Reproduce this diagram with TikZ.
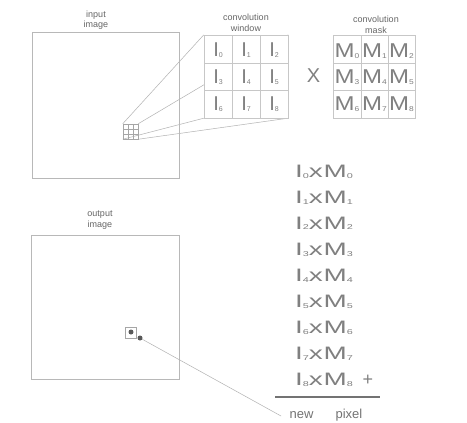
\documentclass[tikz,border=0pt]{standalone}
\usepackage{fontspec}
\setmainfont{Liberation Sans}
\pgfdeclarelayer{back}
\pgfsetlayers{back,main}
\newcommand{\sbs}[1]{\raisebox{-1pt}{\fontsize{7}{7}\selectfont #1}}
\begin{document}
\begin{tikzpicture}[x=1pt,y=-1pt,
  frame/.style={draw=black!28, line width=0.6pt},
  gridline/.style={draw=black!22, line width=0.7pt},
  link/.style={draw=black!30, line width=0.5pt},
  lbl/.style={font=\fontsize{9}{10.5}\selectfont, text=black!60, align=center, inner sep=0pt},
  cell/.style={font=\fontsize{20}{20}\selectfont, text=black!50, inner sep=0pt},
  eq/.style={font=\fontsize{18}{18}\selectfont, text=black!50, inner sep=0pt, anchor=base west},
  dot/.style={circle, fill=black!65, minimum size=5pt, inner sep=0pt},
]
\begin{pgfonlayer}{back}
\fill[white] (0,0) rectangle (467,423);
\end{pgfonlayer}
\useasboundingbox (0,0) rectangle (467,423);

% labels
\node[lbl] (linput) at (96,20) {input\\image};
\node[lbl] (lwin) at (246,23) {convolution\\window};
\node[lbl] (lmask) at (376,25) {convolution\\mask};
\node[lbl] (loutput) at (100,220) {output\\image};

% image frames
\node[frame, minimum width=147pt, minimum height=146pt, inner sep=0pt] (inimg) at (105.5,105) {};
\node[frame, minimum width=148pt, minimum height=144pt, inner sep=0pt] (outimg) at (105,307) {};

% small window in input image
\node[draw=black!35, line width=0.5pt, minimum size=15pt, inner sep=0pt] (sg) at (130.5,131.5) {};
\draw[black!35, line width=0.4pt] (123,129) -- (138,129) (123,134) -- (138,134)
  (128,124) -- (128,139) (133,124) -- (133,139);

% convolution window grid
\node[fill=white, minimum width=84pt, minimum height=83pt, inner sep=0pt] (cw) at (246,76.5) {};
\draw[gridline] (204,35) rectangle (288,118)
  (232,35) -- (232,118) (260,35) -- (260,118)
  (204,63) -- (288,63) (204,90) -- (288,90);

% links from small window to convolution window
\begin{pgfonlayer}{back}
\draw[link] (sg.north west) -- (cw.north west);
\draw[link] (sg.north east) -- (cw.north east);
\draw[link] (sg.south west) -- (cw.south west);
\draw[link] (sg.south east) -- (cw.south east);
\end{pgfonlayer}

\foreach \k/\x/\y in {0/218/50.5,1/246/50.5,2/274/50.5,3/218/77.5,4/246/77.5,5/274/77.5,6/218/104.5,7/246/104.5,8/274/104.5}
  \node[cell] (i\k) at (\x,\y) {I\sbs{\k}};

% times sign
\node[cell] (times) at (313.5,75.5) {X};

% convolution mask grid
\node[minimum width=82pt, minimum height=83pt, inner sep=0pt] (cm) at (374,76.5) {};
\draw[gridline] (333,35) rectangle (415,118)
  (361,35) -- (361,118) (388,35) -- (388,118)
  (333,63) -- (415,63) (333,90) -- (415,90);
\foreach \k/\x/\y in {0/347/51,1/374.5/51,2/401.5/51,3/347/77.5,4/374.5/77.5,5/401.5/77.5,6/347/104.5,7/374.5/104.5,8/401.5/104.5}
  \node[cell] (m\k) at (\x,\y) {\scalebox{1.2}[1]{M\sbs{\k}}};

% sum of products
\foreach \k in {0,...,8}
  \node[eq] (e\k) at (295,{177+26*\k}) {\scalebox{1.55}[1]{I\sbs{\k}x\kern0.5pt M\sbs{\k}}};
\node[eq, anchor=base] (plus) at (368,385) {+};
\draw[black!55, line width=1.3pt] (275,397) -- (380,397);
\node[font=\fontsize{13}{13}\selectfont, text=black!55, inner sep=0pt] (newpix) at (326,415) {new\hspace{22pt}pixel};

% output pixel
\node[draw=black!35, line width=0.5pt, minimum size=11pt, inner sep=0pt] (osq) at (130.5,332.5) {};
\node[dot] (d1) at (131,332) {};
\node[dot] (d2) at (140,338) {};
\coordinate (tip) at (281,416);
\draw[link] (d2) -- (tip);
\end{tikzpicture}
\end{document}
